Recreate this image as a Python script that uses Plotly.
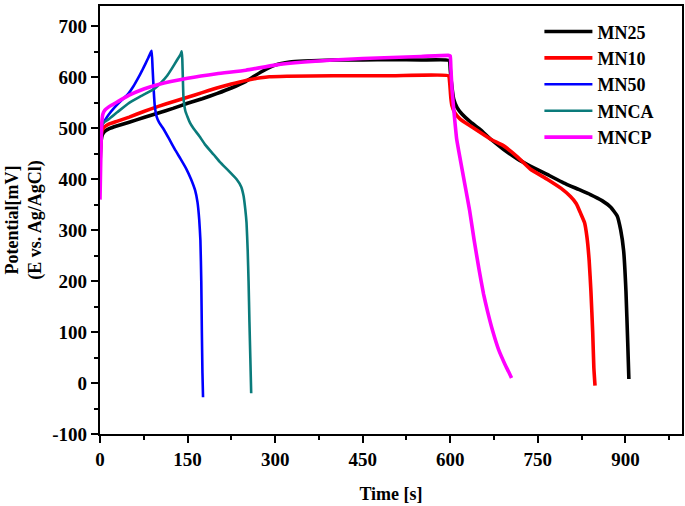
import plotly.graph_objects as go

# ---- data ----
mn25_t = [0, 1, 2, 4, 8, 15, 30, 50, 75, 100, 125, 150, 175, 200, 225, 250, 275, 300, 325, 350, 400, 450, 500, 550, 598,
          600, 602, 606, 612, 620, 635, 651, 670, 691, 715, 737, 765, 794, 820, 840, 860, 875, 886, 892, 897, 901, 904, 906]
mn25_v = [430, 458, 476, 487, 494, 499, 505, 512, 521, 530, 539, 549, 558, 568, 579, 592, 610, 624, 630, 632, 634, 634, 635, 634, 633,
          615, 590, 557, 540, 528, 512, 498, 478, 459, 440, 426, 410, 393, 380, 370, 358, 345, 328, 300, 260, 180, 80, 8]

mn10_t = [0, 1, 2, 4, 8, 15, 30, 50, 75, 100, 125, 150, 175, 200, 225, 250, 275, 290, 320, 400, 500, 597,
          599, 601, 603, 608, 617, 630, 651, 670, 691, 715, 737, 766, 790, 806, 816, 823, 830, 834, 838, 841, 844, 846, 848]
mn10_v = [440, 470, 487, 497, 503, 508, 514, 522, 533, 543, 552, 561, 570, 579, 587, 594, 599, 601, 602, 603, 603, 603,
          590, 560, 544, 530, 518, 508, 492, 478, 466, 444, 420, 400, 382, 366, 352, 334, 315, 288, 240, 180, 100, 30, -5]

mn50_t = [0, 1, 2, 4, 8, 15, 25, 35, 48, 57, 65, 72, 78, 83, 87, 88.5, 90, 92, 94, 97, 101, 108, 118, 128, 138, 148,
          156, 163, 167, 170, 172, 173.5, 174.5, 175.5, 176.5]
mn50_v = [400, 470, 495, 507, 515, 527, 541, 553, 567, 582, 598, 613, 627, 639, 649, 652, 620, 575, 542, 523, 512, 500,
          480, 459, 440, 420, 400, 378, 355, 320, 280, 200, 100, 20, -28]

mnca_t = [0, 1, 2, 4, 8, 15, 30, 50, 70, 94, 105, 115, 123, 132, 138, 140, 141, 142, 143, 146, 150, 154, 160, 170, 180,
          195, 206, 220, 234, 242, 246, 249, 251, 253, 254.5, 256, 257.5, 259]
mnca_v = [430, 480, 500, 508, 513, 518, 532, 550, 563, 578, 590, 603, 617, 634, 645, 651, 635, 595, 560, 535, 522, 511,
          500, 485, 468, 448, 433, 417, 400, 385, 367, 340, 315, 260, 200, 120, 50, -20]

mncp_t = [0, 1, 2, 3, 5, 8, 15, 30, 50, 75, 100, 150, 200, 250, 300, 350, 400, 450, 500, 550, 598,
          600, 601, 603, 607, 611, 617, 625, 633, 641, 649, 657, 664, 672, 683, 694, 700, 705]
mncp_v = [360, 420, 475, 510, 528, 535, 542, 552, 565, 577, 586, 598, 607, 614, 624, 630, 634, 637, 639, 641, 643,
          642, 620, 577, 525, 479, 440, 390, 340, 280, 225, 175, 140, 105, 65, 36, 22, 10]

series_names = ["MN25", "MN10", "MN50", "MNCA", "MNCP"]
series_t = [mn25_t, mn10_t, mn50_t, mnca_t, mncp_t]
series_v = [mn25_v, mn10_v, mn50_v, mnca_v, mncp_v]
colors = ["#000000", "#ff0000", "#0000ff", "#0a7b7b", "#ff00ff"]
widths = [3.6, 3.6, 2.6, 2.6, 3.6]

x_ticks = [0, 150, 300, 450, 600, 750, 900]
x_labels = ["0", "150", "300", "450", "600", "750", "900"]
y_ticks = [-100, 0, 100, 200, 300, 400, 500, 600, 700]
y_labels = ["-100", "0", "100", "200", "300", "400", "500", "600", "700"]

FONT = "Liberation Serif, Times New Roman, serif"

fig = go.Figure()
for name, t, v, c, w in zip(series_names, series_t, series_v, colors, widths):
    fig.add_trace(go.Scatter(x=t, y=v, mode="lines", name=name,
                             line=dict(color=c, width=w, shape="spline", smoothing=0.4)))

axis_common = dict(
    showline=True, linecolor="black", linewidth=2.2, mirror=True,
    ticks="outside", ticklen=7, tickwidth=2.2, tickcolor="black",
    showgrid=False, zeroline=False, automargin=False,
    tickfont=dict(family=FONT, size=19, color="black", weight="bold"),
)

fig.update_xaxes(
    range=[0, 997], tickvals=x_ticks, ticktext=x_labels,
    minor=dict(dtick=75, tick0=0, ticks="outside", ticklen=4, tickwidth=2.2, tickcolor="black"),
    title=dict(text="Time [s]", font=dict(family=FONT, size=18, color="black", weight="bold"), standoff=18),
    **axis_common,
)
fig.update_yaxes(
    range=[-100, 740], tickvals=y_ticks, ticktext=y_labels,
    minor=dict(dtick=50, tick0=0, ticks="outside", ticklen=4, tickwidth=2.2, tickcolor="black"),
    title=dict(text="Potential[mV]<br>(E vs. Ag/AgCl)", font=dict(family=FONT, size=18, color="black", weight="bold"), standoff=6),
    **axis_common,
)

fig.update_layout(
    width=685, height=506,
    margin=dict(l=100, r=3, t=6, b=72),
    paper_bgcolor="white", plot_bgcolor="white",
    showlegend=True,
    legend=dict(x=0.755, y=0.983, xanchor="left", yanchor="top",
                font=dict(family=FONT, size=18, color="black", weight="bold"),
                bgcolor="rgba(0,0,0,0)", itemwidth=48),
)

fig.write_html("out.html", config={"displayModeBar": False},
               post_script="document.body.style.margin='0';document.body.style.overflow='hidden';")
